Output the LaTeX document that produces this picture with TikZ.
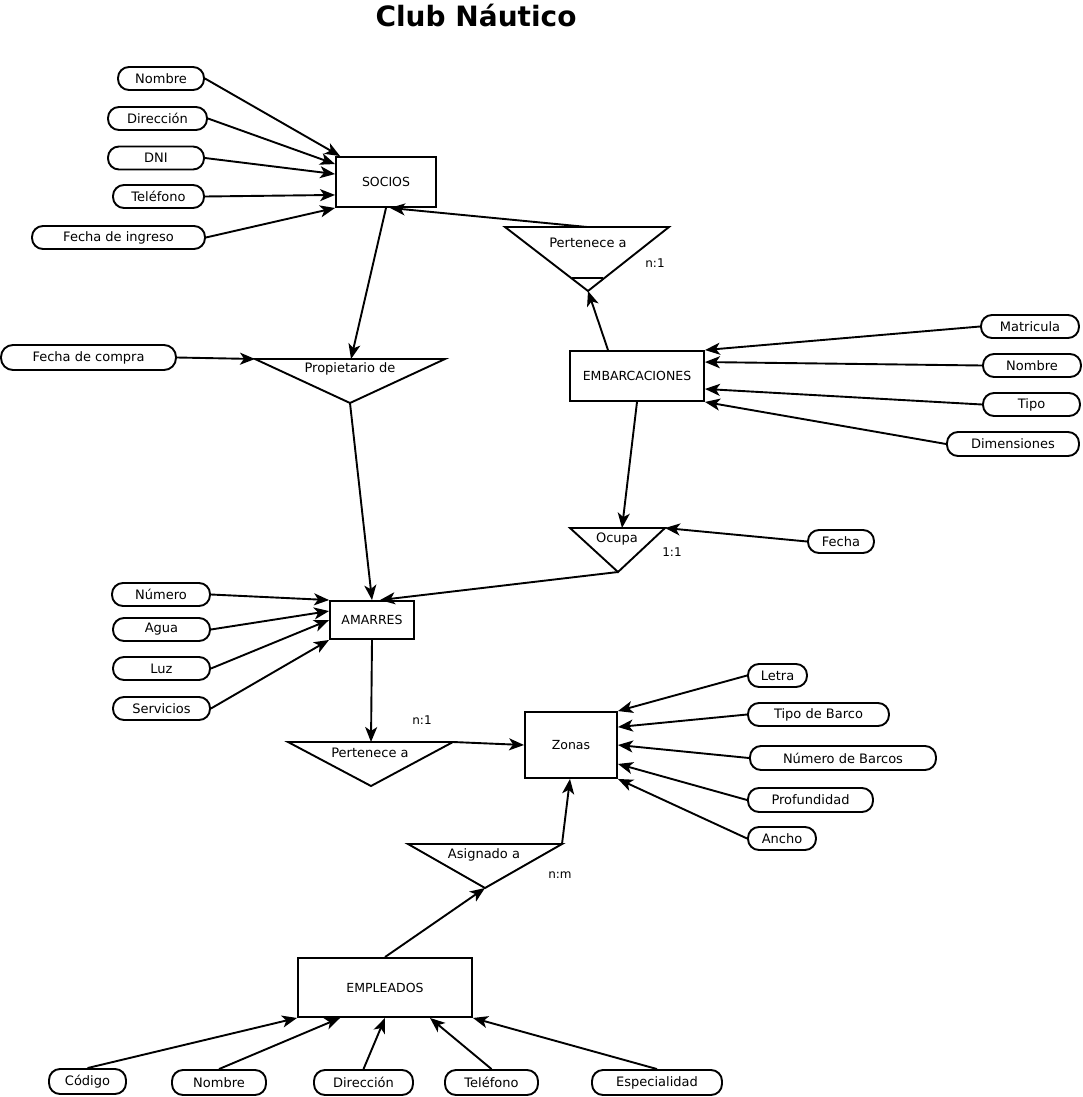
\documentclass[tikz,border=0pt]{standalone}
\usepackage{fontspec}
\setmainfont{DejaVu Sans}
\usetikzlibrary{arrows.meta}

\begin{document}
\begin{tikzpicture}[x=1pt,y=-1pt,
  line width=1.9pt,
  ent/.style={draw, inner sep=0pt, font=\fontsize{12.5}{14}\selectfont},
  attr/.style={draw, rounded corners=11pt, minimum height=23pt, inner sep=0pt, font=\fontsize{13}{15}\selectfont},
  rel/.style={inner sep=0pt, font=\fontsize{13}{15}\selectfont},
  card/.style={inner sep=0pt, font=\fontsize{12}{14}\selectfont},
  arr/.style={-{Stealth[length=15pt,width=12pt,inset=4pt]}}]
\useasboundingbox (0,0) rectangle (1083,1097);
\node [font=\bfseries\fontsize{28}{32}\selectfont] (titulo) at (476,16) {Club Náutico};

% entidades
\node [ent, minimum width=100pt, minimum height=50pt] (socios) at (386,182) {SOCIOS};
\node [ent, minimum width=134pt, minimum height=50pt] (embar) at (637,376) {EMBARCACIONES};
\node [ent, minimum width=84pt, minimum height=38pt] (amarres) at (372,620) {AMARRES};
\node [ent, minimum width=92pt, minimum height=66pt] (zonas) at (571,745) {Zonas};
\node [ent, minimum width=174pt, minimum height=59pt] (empl) at (385,987.5) {EMPLEADOS};

% relaciones
\draw (505,227) -- (669,227) -- (588,291) -- cycle;
\draw (572,278) -- (603,278);
\coordinate (pert1) at (587,227);
\coordinate (pert1tip) at (588,291);
\node [rel] (pert1txt) at (588,243) {Pertenece a};
\node [card] (card1) at (655,263) {n:1};

\draw (255,359) -- (445,359) -- (350,403) -- cycle;
\coordinate (prop) at (351,359);
\coordinate (propl) at (255,359);
\coordinate (proptip) at (350,403);
\node [rel] (proptxt) at (350,369) {Propietario de};

\draw (570,528) -- (665,528) -- (618,572) -- cycle;
\coordinate (ocupa) at (622,528);
\coordinate (ocupar) at (665,528);
\coordinate (ocupatip) at (618,572);
\node [rel] (ocupatxt) at (617,539) {Ocupa};
\node [card] (card2) at (672,552) {1:1};

\draw (288,742) -- (453,742) -- (371,786) -- cycle;
\coordinate (pert2) at (371,742);
\coordinate (pert2r) at (453,742);
\node [rel] (pert2txt) at (370,753) {Pertenece a};
\node [card] (card3) at (422,720) {n:1};

\draw (408,844) -- (562,844) -- (485,888) -- cycle;
\coordinate (asigr) at (562,844);
\coordinate (asigtip) at (485,888);
\node [rel] (asigtxt) at (484,855) {Asignado a};
\node [card] (card4) at (560,875) {n:m};

% atributos
\node [attr, minimum width=86pt] (nombre1) at (161,78.5) {Nombre};
\node [attr, minimum width=99pt] (dir1) at (157.5,118.5) {Dirección};
\node [attr, minimum width=96pt] (dni) at (156,158) {DNI};
\node [attr, minimum width=91pt] (tel1) at (158.5,196.5) {Teléfono};
\node [attr, minimum width=173pt] (fing) at (118.5,237.5) {Fecha de ingreso};
\node [attr, minimum width=175pt, minimum height=25pt, rounded corners=12pt] (fcomp) at (88.5,357.5) {Fecha de compra};

\node [attr, minimum width=98pt] (matr) at (1030,326.5) {Matricula};
\node [attr, minimum width=98pt] (nombre2) at (1032,365.5) {Nombre};
\node [attr, minimum width=97pt] (tipo) at (1031.5,404.5) {Tipo};
\node [attr, minimum width=132pt, minimum height=24pt] (dimen) at (1013,444) {Dimensiones};
\node [attr, minimum width=66pt] (fecha) at (841,541.5) {Fecha};

\node [attr, minimum width=98pt] (numero) at (161,594.5) {Número};
\node [attr, minimum width=97pt] (agua) at (161.5,629.5) {Agua};
\node [attr, minimum width=97pt] (luz) at (161.5,668.5) {Luz};
\node [attr, minimum width=97pt] (serv) at (161.5,708.5) {Servicios};

\node [attr, minimum width=59pt] (letra) at (777.5,675.5) {Letra};
\node [attr, minimum width=141pt] (tbarco) at (818.5,714.5) {Tipo de Barco};
\node [attr, minimum width=186pt, minimum height=24pt] (nbarcos) at (843,758) {Número de Barcos};
\node [attr, minimum width=125pt, minimum height=24pt] (prof) at (810.5,800) {Profundidad};
\node [attr, minimum width=68pt] (ancho) at (782,838.5) {Ancho};

\node [attr, minimum width=77pt, minimum height=25pt] (codigo) at (87.5,1081.5) {Código};
\node [attr, minimum width=94pt, minimum height=25pt] (nombre3) at (219,1082.5) {Nombre};
\node [attr, minimum width=99pt, minimum height=25pt] (dir3) at (363.5,1082.5) {Dirección};
\node [attr, minimum width=93pt, minimum height=25pt] (tel3) at (491.5,1082.5) {Teléfono};
\node [attr, minimum width=130pt, minimum height=25pt] (espec) at (657,1082.5) {Especialidad};

% conexiones
\draw [arr] (nombre1.east) -- ([xshift=5pt]socios.north west);
\draw [arr] (dir1.east) -- ([yshift=-8pt]socios.north west);
\draw [arr] (dni.east) -- ([yshift=-18pt]socios.north west);
\draw [arr] (tel1.east) -- ([yshift=13pt]socios.south west);
\draw [arr] (fing.east) -- (socios.south west);
\draw [arr] (pert1) -- ([xshift=4pt]socios.south);
\draw [arr] ([xshift=-29pt]embar.north) -- (pert1tip);

\draw [arr] (matr.west) -- (embar.north east);
\draw [arr] (nombre2.west) -- ([yshift=-12pt]embar.north east);
\draw [arr] (tipo.west) -- ([yshift=13pt]embar.south east);
\draw [arr] (dimen.west) -- (embar.south east);
\draw [arr] (embar.south) -- (ocupa);
\draw [arr] (fecha.west) -- (ocupar);
\draw [arr] (ocupatip) -- ([xshift=8pt]amarres.north);

\draw [arr] (socios.south) -- (prop);
\draw [arr] (fcomp.east) -- (propl);
\draw [arr] (proptip) -- (amarres.north);

\draw [arr] (numero.east) -- (amarres.north west);
\draw [arr] (agua.east) -- ([yshift=-11pt]amarres.north west);
\draw [arr] (luz.east) -- (amarres.west);
\draw [arr] (serv.east) -- (amarres.south west);
\draw [arr] (amarres.south) -- (pert2);
\draw [arr] (pert2r) -- (zonas.west);

\draw [arr] (letra.west) -- (zonas.north east);
\draw [arr] (tbarco.west) -- ([yshift=-16pt]zonas.north east);
\draw [arr] (nbarcos.west) -- (zonas.east);
\draw [arr] (prof.west) -- ([yshift=15pt]zonas.south east);
\draw [arr] (ancho.west) -- (zonas.south east);
\draw [arr] (asigr) -- ([xshift=-1pt]zonas.south);
\draw [arr] (empl.north) -- (asigtip);

\draw [arr] (codigo.north) -- (empl.south west);
\draw [arr] (nombre3.north) -- ([xshift=43pt]empl.south west);
\draw [arr] (dir3.north) -- (empl.south);
\draw [arr] (tel3.north) -- ([xshift=45pt]empl.south);
\draw [arr] (espec.north) -- (empl.south east);
\end{tikzpicture}
\end{document}
